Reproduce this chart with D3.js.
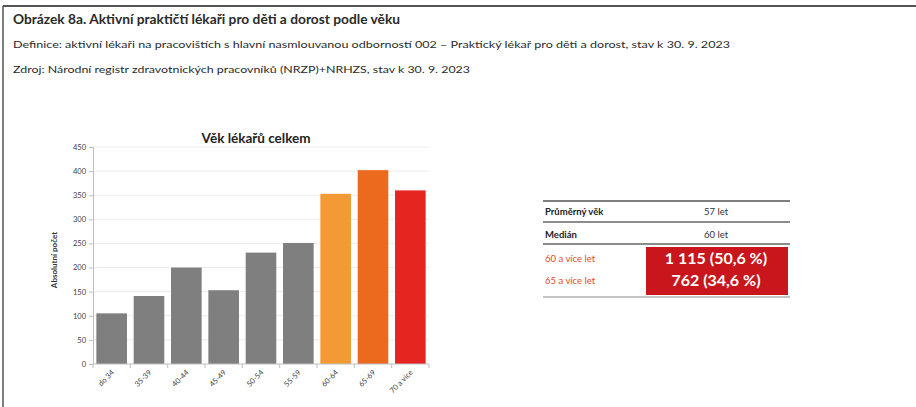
<!DOCTYPE html>
<html><head><meta charset="utf-8">
<script src="https://cdn.jsdelivr.net/npm/d3@7"></script>
<style>
body{margin:0;background:#fff;}
svg{display:block;font-family:Lato,"Open Sans",sans-serif;}
</style></head>
<body><svg id="c" width="916" height="407"></svg>
<script>
const categories = ["do 34","35-39","40-44","45-49","50-54","55-59","60-64","65-69","70 a více"];
const values = [105, 141, 200, 153, 231, 251, 353, 402, 360];
const barColors = ["#7f7f7f","#7f7f7f","#7f7f7f","#7f7f7f","#7f7f7f","#7f7f7f","#f39a35","#ec6a1e","#e42520"];
const yTicks = [0,50,100,150,200,250,300,350,400,450];
const headerLines = [
  "Obrázek 8a. Aktivní praktičtí lékaři pro děti a dorost podle věku",
  "Definice: aktivní lékaři na pracovištích s hlavní nasmlouvanou odborností 002 – Praktický lékař pro děti a dorost, stav k 30. 9. 2023",
  "Zdroj: Národní registr zdravotnických pracovníků (NRZP)+NRHZS, stav k 30. 9. 2023"
];
const chartTitle = "Věk lékařů celkem";
const yTitle = "Absolutní počet";
const tableRows = [["Průměrný věk","57 let"],["Medián","60 let"]];
const tableRed = [["60 a více let","1 115 (50,6 %)"],["65 a více let","762 (34,6 %)"]];

const svg = d3.select("#c");

// frame
svg.append("line").attr("x1",3).attr("x2",916).attr("y1",6).attr("y2",6).attr("stroke","#555").attr("stroke-width",2);
svg.append("line").attr("x1",3).attr("x2",3).attr("y1",6).attr("y2",407).attr("stroke","#555").attr("stroke-width",1.5);

// header
const hdr = [{t:headerLines[0],y:24,s:12.5,w:"bold",len:387},{t:headerLines[1],y:48,s:10,w:"normal",len:717},{t:headerLines[2],y:73,s:10,w:"normal",len:457}];
svg.selectAll("text.hdr").data(hdr).join("text").attr("class","hdr")
  .attr("x",13).attr("y",d=>d.y).attr("font-size",d=>d.s).attr("font-weight",d=>d.w)
  .attr("fill","#2a2a2a").attr("textLength",d=>d.len).attr("lengthAdjust","spacingAndGlyphs").text(d=>d.t);

// chart
const x0=93, x1=429, yb=364, yt=147;
const x = d3.scaleBand().domain(categories).range([x0,x1]).paddingInner(0.18).paddingOuter(0.09);
const y = d3.scaleLinear().domain([0,450]).range([yb,yt]);

// grid
svg.append("g").selectAll("line").data(yTicks.slice(1)).join("line")
  .attr("x1",x0).attr("x2",x1).attr("y1",d=>y(d)).attr("y2",d=>y(d)).attr("stroke","#ececec").attr("stroke-width",1);

// bars
svg.append("g").selectAll("rect").data(values).join("rect")
  .attr("x",(d,i)=>x(categories[i])).attr("width",x.bandwidth())
  .attr("y",d=>y(d)).attr("height",d=>yb-y(d)).attr("fill",(d,i)=>barColors[i]);

// y axis
const ya = svg.append("g").attr("transform",`translate(${x0},0)`)
  .call(d3.axisLeft(y).tickValues(yTicks).tickSize(4).tickPadding(3));
ya.select(".domain").attr("stroke","#bfbfbf");
ya.selectAll(".tick line").attr("stroke","#bfbfbf");
ya.selectAll("text").attr("font-size",7.5).attr("fill","#404040").attr("font-family","Lato,sans-serif");

// x axis with ticks at band boundaries
const xa = svg.append("g").attr("transform",`translate(0,${yb})`);
xa.append("line").attr("x1",x0).attr("x2",x1).attr("stroke","#bfbfbf");
const bounds = d3.range(categories.length+1).map(i=>x0 + (x1-x0)*i/categories.length);
xa.selectAll("line.tk").data(bounds).join("line").attr("class","tk")
  .attr("x1",d=>d).attr("x2",d=>d).attr("y1",0).attr("y2",4).attr("stroke","#bfbfbf");
xa.selectAll("text").data(categories).join("text")
  .attr("transform",d=>`translate(${x(d)+x.bandwidth()/2+3},9) rotate(-45)`)
  .attr("text-anchor","end").attr("font-size",7.5).attr("fill","#404040").text(d=>d);

// titles
svg.append("text").attr("x",256).attr("y",143).attr("text-anchor","middle")
  .attr("font-size",13.5).attr("font-weight","bold").attr("fill","#222").text(chartTitle);
svg.append("text").attr("transform","translate(57,260) rotate(-90)").attr("text-anchor","middle")
  .attr("font-size",8).attr("font-weight","bold").attr("fill","#333").text(yTitle);

// table
const tx0=543, tx1=790, boxX=646, valC=716;
const tg = svg.append("g");
tg.append("line").attr("x1",tx0).attr("x2",tx1).attr("y1",201).attr("y2",201).attr("stroke","#555").attr("stroke-width",1.5);
const rowY=[215,238];
tg.selectAll("text.lab").data(tableRows).join("text").attr("class","lab")
  .attr("x",tx0+2).attr("y",(d,i)=>rowY[i]).attr("font-size",9.5).attr("font-weight","bold").attr("fill","#222").text(d=>d[0]);
tg.selectAll("text.val").data(tableRows).join("text").attr("class","val")
  .attr("x",valC).attr("y",(d,i)=>rowY[i]).attr("text-anchor","middle").attr("font-size",9.5).attr("fill","#333").text(d=>d[1]);
tg.append("line").attr("x1",tx0).attr("x2",tx1).attr("y1",222).attr("y2",222).attr("stroke","#666").attr("stroke-width",1.5);
tg.append("line").attr("x1",tx0).attr("x2",tx1).attr("y1",244).attr("y2",244).attr("stroke","#666").attr("stroke-width",1.5);
tg.append("rect").attr("x",boxX).attr("y",247).attr("width",tx1-boxX-2).attr("height",48).attr("fill","#c9161c");
const redY=[262,284];
tg.selectAll("text.rl").data(tableRed).join("text").attr("class","rl")
  .attr("x",tx0+2).attr("y",(d,i)=>redY[i]).attr("font-size",9.5).attr("fill","#e24a2c").text(d=>d[0]);
tg.selectAll("text.rv").data(tableRed).join("text").attr("class","rv")
  .attr("x",valC).attr("y",(d,i)=>redY[i]+2).attr("text-anchor","middle").attr("font-size",16).attr("font-weight","bold").attr("fill","#fff").text(d=>d[1]);
tg.append("line").attr("x1",tx0).attr("x2",tx1).attr("y1",297).attr("y2",297).attr("stroke","#888").attr("stroke-width",1);
</script></body></html>
